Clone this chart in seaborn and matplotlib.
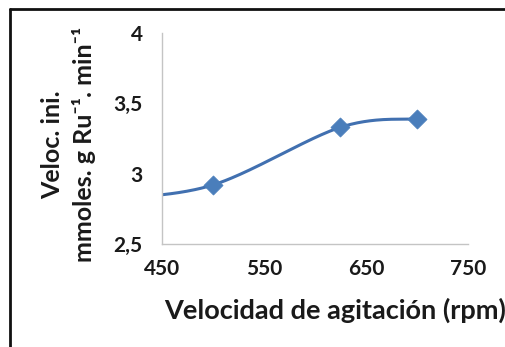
import numpy as np
import pandas as pd
import matplotlib
matplotlib.use("Agg")
import matplotlib.pyplot as plt
from matplotlib.lines import Line2D
import seaborn as sns

# Measured initial rates vs. stirring speed
rpm = [400, 500, 625, 700]
rate = [2.82, 2.92, 3.33, 3.39]
marker_rpm = [500, 625, 700]
marker_rate = [2.92, 3.33, 3.39]

x_ticks = [450, 550, 650, 750]
y_ticks = [2.5, 3.0, 3.5, 4.0]
y_tick_labels = ["2,5", "3", "3,5", "4"]


def smooth_curve(xs, ys, n=60):
    """Bezier smoothing through the points (tension 1/6)."""
    p = np.column_stack([xs, ys]).astype(float)
    ext = np.vstack([p[0], p, p[-1]])
    out = []
    t = np.linspace(0, 1, n)[:, None]
    for i in range(1, len(ext) - 2):
        p0, p1 = ext[i], ext[i + 1]
        c1 = p0 + (ext[i + 1] - ext[i - 1]) / 6.0
        c2 = p1 - (ext[i + 2] - ext[i]) / 6.0
        seg = ((1 - t) ** 3) * p0 + 3 * ((1 - t) ** 2) * t * c1 + 3 * (1 - t) * t ** 2 * c2 + t ** 3 * p1
        out.append(seg if i == 1 else seg[1:])
    s = np.vstack(out)
    return s[:, 0], s[:, 1]


sns.set_theme(style="white")
plt.rcParams["font.family"] = ["Lato", "DejaVu Sans"]

fig = plt.figure(figsize=(5.05, 3.47), dpi=100)
ax = fig.add_axes([0.3208, 0.2968, 0.6059, 0.6081])

sx, sy = smooth_curve(rpm, rate)
curve = pd.DataFrame({"rpm": sx, "rate": sy})
sns.lineplot(data=curve, x="rpm", y="rate", sort=False, estimator=None,
             color="#4170b0", linewidth=2.2, ax=ax)
pts = pd.DataFrame({"rpm": marker_rpm, "rate": marker_rate})
sns.scatterplot(data=pts, x="rpm", y="rate", marker="D", s=95,
                color="#4a7ebb", edgecolor="#4a7ebb", linewidth=0.5, ax=ax, zorder=3)

ax.set_xlim(450, 750)
ax.set_ylim(2.5, 4.0)
ax.set_xticks(x_ticks)
ax.set_xticklabels([str(v) for v in x_ticks])
ax.set_yticks(y_ticks)
ax.set_yticklabels(y_tick_labels)

for side in ("top", "right"):
    ax.spines[side].set_visible(False)
for side in ("left", "bottom"):
    ax.spines[side].set_color("#c4c4c4")
    ax.spines[side].set_linewidth(1.0)

ax.tick_params(axis="both", which="major", direction="out", length=5, width=1.0,
               color="#c4c4c4", labelsize=15, labelcolor="#1a1a1a")
ax.tick_params(axis="x", pad=6)
ax.tick_params(axis="y", pad=9)
for lbl in ax.get_xticklabels() + ax.get_yticklabels():
    lbl.set_fontweight("bold")

ax.set_xlabel("Velocidad de agitación (rpm)", fontsize=19.5, fontweight="bold",
              color="#1a1a1a")
ax.xaxis.set_label_coords(0.565, -0.255)
ax.set_ylabel("Veloc. ini.\nmmoles. g Ru\u207b\u00b9. min\u207b\u00b9",
              fontsize=18, fontweight="bold", color="#1a1a1a",
              linespacing=1.4)
ax.yaxis.set_label_coords(-0.215, 0.47)

# Chart frame (top and left edges)
fig.add_artist(Line2D([0.019, 1.0], [0.973, 0.973], transform=fig.transFigure,
                      color="#111111", linewidth=2.0))
fig.add_artist(Line2D([0.019, 0.019], [0.0, 0.973], transform=fig.transFigure,
                      color="#111111", linewidth=2.0))

fig.savefig("out.png", dpi=100)
